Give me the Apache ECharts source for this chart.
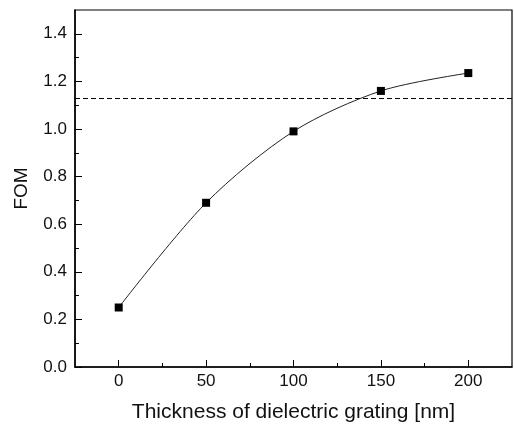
<!DOCTYPE html>
<html>
<head>
<meta charset="utf-8">
<script src="https://cdn.jsdelivr.net/npm/echarts@6/dist/echarts.min.js"></script>
<style>
  html, body { margin: 0; padding: 0; background: #fff; }
  #chart { width: 514px; height: 425px; }
</style>
</head>
<body>
<div id="chart"></div>
<script>
// grating thickness [nm] and figure of merit
const thickness = [0, 50, 100, 150, 200];
const fom = [0.25, 0.69, 0.99, 1.16, 1.235];
const threshold = 1.127;

const xMajor = [0, 50, 100, 150, 200];
const xMinor = [25, 75, 125, 175];
const yMajor = [0, 0.2, 0.4, 0.6, 0.8, 1.0, 1.2, 1.4];
const yMinor = [0.1, 0.3, 0.5, 0.7, 0.9, 1.1, 1.3];

const font = "Liberation Sans, Arial, sans-serif";

let myChart = echarts.init(document.getElementById("chart"));

const axisLineStyle = { color: "#000", width: 1.5 };

myChart.setOption({
  animation: false,
  grid: {
    left: 75,
    top: 10,
    right: 2,
    bottom: 58,
    outerBoundsMode: "none",
    show: true,
    borderColor: "#000",
    borderWidth: 1.2
  },
  xAxis: [
    {
      type: "value",
      min: -25,
      max: 225,
      name: "Thickness of dielectric grating [nm]",
      nameLocation: "middle",
      nameGap: 35,
      nameTextStyle: { fontFamily: font, fontSize: 21, color: "#111" },
      axisLine: { onZero: false, lineStyle: axisLineStyle },
      axisTick: { inside: true, length: 7, customValues: xMajor, lineStyle: { color: "#000" } },
      axisLabel: { customValues: xMajor, fontFamily: font, fontSize: 17, color: "#111", margin: 6 },
      splitLine: { show: false }
    },
    {
      type: "value",
      min: -25,
      max: 225,
      position: "bottom",
      axisLine: { show: false, onZero: false },
      axisTick: { inside: true, length: 4, customValues: xMinor, lineStyle: { color: "#000" } },
      axisLabel: { show: false },
      splitLine: { show: false }
    }
  ],
  yAxis: [
    {
      type: "value",
      min: 0,
      max: 1.5,
      name: "FOM",
      nameLocation: "middle",
      nameGap: 44,
      nameTextStyle: { fontFamily: font, fontSize: 19, color: "#111" },
      axisLine: { onZero: false, lineStyle: axisLineStyle },
      axisTick: { inside: true, length: 7, customValues: yMajor, lineStyle: { color: "#000" } },
      axisLabel: {
        customValues: yMajor,
        fontFamily: font,
        fontSize: 17,
        color: "#111",
        margin: 8,
        formatter: v => v.toFixed(1)
      },
      splitLine: { show: false }
    },
    {
      type: "value",
      min: 0,
      max: 1.5,
      position: "left",
      axisLine: { show: false, onZero: false },
      axisTick: { inside: true, length: 4, customValues: yMinor, lineStyle: { color: "#000" } },
      axisLabel: { show: false },
      splitLine: { show: false }
    }
  ],
  series: [
    {
      type: "line",
      data: thickness.map((x, i) => [x, fom[i]]),
      smooth: 0.3,
      symbol: "rect",
      symbolSize: 8,
      itemStyle: { color: "#000" },
      lineStyle: { color: "#222", width: 1 },
      markLine: {
        silent: true,
        symbol: "none",
        label: { show: false },
        lineStyle: { color: "#000", type: [5, 3], width: 1 },
        data: [{ yAxis: threshold }]
      }
    }
  ]
});
</script>
</body>
</html>
